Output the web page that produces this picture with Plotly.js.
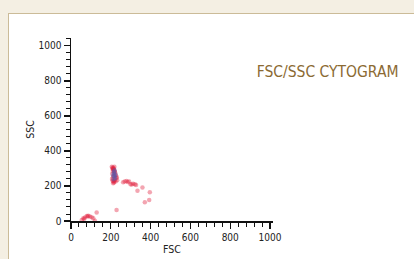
<!DOCTYPE html>
<html><head><meta charset="utf-8">
<script src="https://cdn.plot.ly/plotly-3.0.1.min.js"></script>
<style>
html,body{margin:0;padding:0;background:#f4efe3;width:414px;height:259px;overflow:hidden;}
#panel{position:absolute;left:8px;top:13px;width:420px;height:260px;background:#fff;border:1px solid #cbbb98;}
#chart{position:absolute;left:0;top:0;width:414px;height:259px;}
</style></head><body>
<div id="panel"></div>
<div id="chart"></div>
<script>
// Red events (FSC, SSC)
const redFSC = [205,208,210,212,214,216,218,220,222,226,206,209,213,217,221,228,207,211,215,219,230,210,214,218,224,212,216,232,
  262,270,279,285,292,299,305,312,321,327,334,359,396,371,393,229,
  54,62,70,79,87,95,104,112,120,129,66,84];
const redSSC = [310,300,305,295,300,290,285,280,275,260,240,230,225,228,235,245,270,250,255,265,250,285,300,310,225,215,220,232,
  221,225,229,222,226,210,208,212,210,205,173,192,164,107,120,63,
  6,15,20,29,30,25,22,15,2,48,12,25];
// Blue events inside the main cluster
const blueFSC = [212,215,218,222,216,224,214,219];
const blueSSC = [260,270,255,245,280,265,238,290];

const titleText = 'FSC/SSC CYTOGRAM';
const xTitle = 'FSC';
const yTitle = 'SSC';

const F = '"DejaVu Sans Condensed", "Liberation Sans", sans-serif';

const data = [
  {x: redFSC, y: redSSC, type:'scatter', mode:'markers',
   marker:{size:4.5, color:'rgba(226,30,60,0.4)', line:{width:0}}, hoverinfo:'skip'},
  {x: blueFSC, y: blueSSC, type:'scatter', mode:'markers',
   marker:{size:4.5, color:'rgba(90,90,170,0.5)', line:{width:0}}, hoverinfo:'skip'}
];

const axisCommon = {
  showgrid:false, zeroline:false, showline:true, linecolor:'#111', linewidth:1.5,
  ticks:'outside', ticklen:6, tickwidth:1.2, tickcolor:'#111',
  dtick:200, tick0:0,
  minor:{dtick:40, tick0:0, ticks:'outside', ticklen:4, tickwidth:1, tickcolor:'#111'},
  tickfont:{family:F, size:10, color:'#222'}
};

const layout = {
  width:414, height:259,
  margin:{l:71, r:140.5, t:38, b:38, pad:0},
  paper_bgcolor:'rgba(0,0,0,0)', plot_bgcolor:'rgba(0,0,0,0)',
  showlegend:false,
  title:{text:titleText, x:0.62, xref:'container', xanchor:'left', y:0.722, yref:'container', yanchor:'middle',
    font:{family:F, size:15.5, color:'#8b6a33'}},
  xaxis: Object.assign({}, axisCommon, {range:[0,1015], title:{text:xTitle, standoff:4, font:{family:F, size:10.5, color:'#222'}}}),
  yaxis: Object.assign({}, axisCommon, {range:[0,1045], title:{text:yTitle, standoff:2, font:{family:F, size:10.5, color:'#222'}}})
};

Plotly.newPlot('chart', data, layout, {displayModeBar:false, staticPlot:true});
</script>
</body></html>
